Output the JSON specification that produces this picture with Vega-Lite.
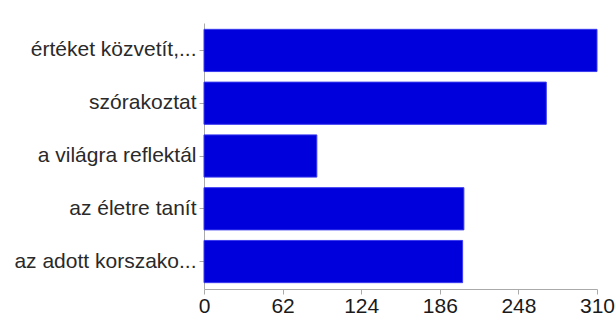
{
  "$schema": "https://vega.github.io/schema/vega-lite/v6.json",
  "autosize": {"type": "none"},
  "padding": {"left": 204, "top": 23, "right": 19, "bottom": 27},
  "width": 393,
  "height": 266,
  "background": "white",
  "data": {
    "values": [
      {"label": "értéket közvetít,...", "count": 310},
      {"label": "szórakoztat", "count": 270},
      {"label": "a világra reflektál", "count": 89},
      {"label": "az életre tanít", "count": 205},
      {"label": "az adott korszako...", "count": 204}
    ]
  },
  "mark": {"type": "bar", "color": "#0000dc", "stroke": "#3a3af0", "strokeWidth": 1},
  "encoding": {
    "y": {
      "field": "label",
      "type": "nominal",
      "sort": null,
      "title": null,
      "scale": {"paddingInner": 0.2, "paddingOuter": 0.12},
      "axis": {
        "labelFont": "Liberation Sans",
        "labelFontSize": 21,
        "labelColor": "#2a2a2a",
        "labelLimit": 0,
        "labelPadding": 3,
        "tickSize": 5,
        "tickColor": "#aaaaaa",
        "domainColor": "#aaaaaa",
        "grid": false
      }
    },
    "x": {
      "field": "count",
      "type": "quantitative",
      "title": null,
      "scale": {"domain": [0, 310], "nice": false},
      "axis": {
        "values": [0, 62, 124, 186, 248, 310],
        "labelFont": "Liberation Sans",
        "labelFontSize": 21,
        "labelColor": "#1a1a1a",
        "labelPadding": 1,
        "tickSize": 5,
        "tickColor": "#aaaaaa",
        "domainColor": "#aaaaaa",
        "grid": false,
        "labelOverlap": false,
        "labelFlush": false
      }
    }
  },
  "config": {"view": {"stroke": null}}
}
